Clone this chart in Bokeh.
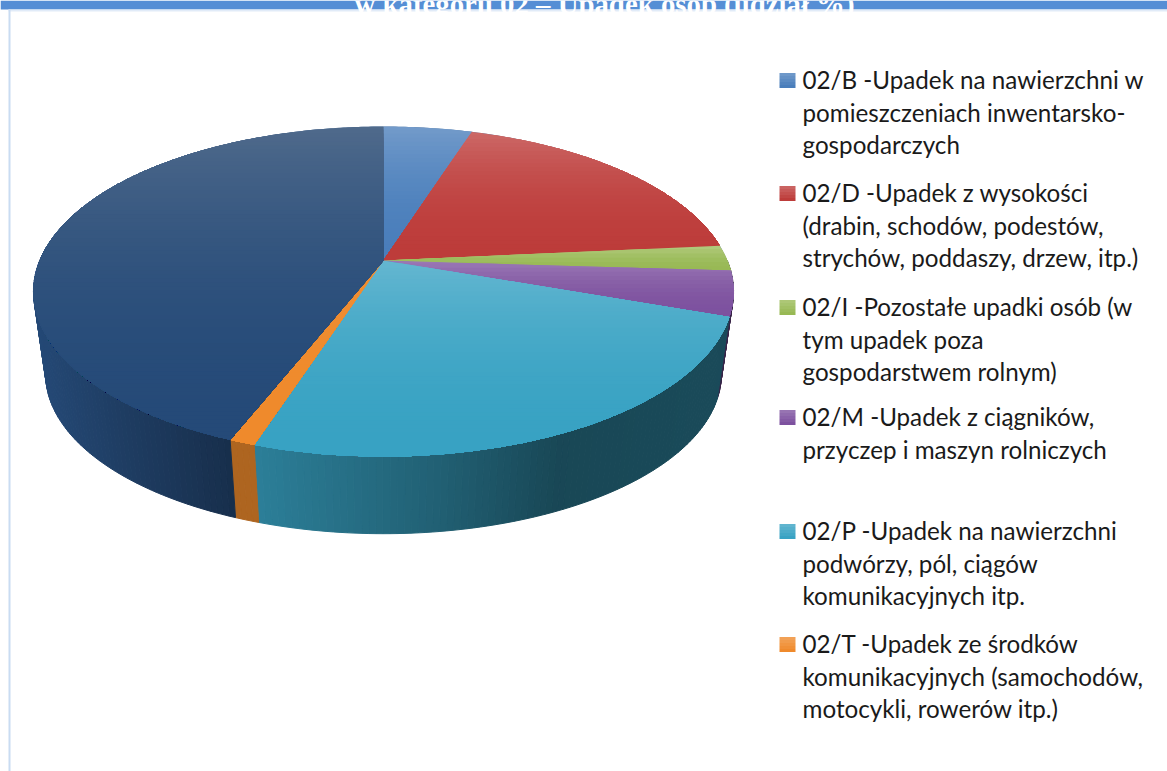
import math
import numpy as np
from bokeh.plotting import figure
from bokeh.models import ColumnDataSource, Range1d
from bokeh.core.properties import value
from bokeh.embed import file_html
from bokeh.resources import INLINE

# ---------- data ----------
slice_names = ["02/B", "02/D", "02/I", "02/M", "02/P", "02/T", "other"]
slice_shares = [4.9, 18.6, 2.5, 4.4, 24.6, 1.0, 44.0]
slice_colors = ["#4a7ebb", "#bd3c3a", "#98b954", "#7d519f", "#38a2c3", "#ef8a2c", "#254a78"]
legend_lines = [
    ["02/B -Upadek na nawierzchni w", "pomieszczeniach inwentarsko-", "gospodarczych"],
    ["02/D -Upadek z wysokości", "(drabin, schodów, podestów,", "strychów, poddaszy, drzew, itp.)"],
    ["02/I -Pozostałe upadki osób (w", "tym upadek poza", "gospodarstwem rolnym)"],
    ["02/M -Upadek z ciągników,", "przyczep i maszyn rolniczych"],
    ["02/P -Upadek na nawierzchni", "podwórzy, pól, ciągów", "komunikacyjnych itp."],
    ["02/T -Upadek ze środków", "komunikacyjnych (samochodów,", "motocykli, rowerów itp.)"],
]
title_text = "w kategorii 02 – Upadek osób (udział %)"

# ---------- layout / projection ----------
W, H = 1167, 771
CX, CY, RX, RY, K = 383.0, 260.0, 343.8, 159.2, 0.188
BOTTOM_SCALE, DEPTH = 0.965, 84.0
LEGEND_Y = [79, 192, 306, 416, 530, 643]
LINE_PITCH = 32.5


def rim(deg):
    a = np.radians(deg)
    d = 1 + K * np.cos(a)
    return CX + RX * np.sin(a) / d, CY - RY * np.cos(a) / d


def floor(x, y):
    return CX + BOTTOM_SCALE * (x - CX), CY + BOTTOM_SCALE * (y - CY) + DEPTH


def rgb(h):
    return tuple(int(h[i:i + 2], 16) for i in (1, 3, 5))


def shade(h, f):
    return "#%02x%02x%02x" % tuple(min(255, int(round(c * f))) for c in rgb(h))


def tint(h, t, target=255):
    return "#%02x%02x%02x" % tuple(int(round(c + (target - c) * t)) for c in rgb(h))


def clip_below(pts, y0):
    out = []
    for i in range(len(pts)):
        a, b = pts[i], pts[(i + 1) % len(pts)]
        ka, kb = a[1] >= y0, b[1] >= y0
        if ka:
            out.append(a)
        if ka != kb:
            out.append((a[0] + (b[0] - a[0]) * (y0 - a[1]) / (b[1] - a[1]), y0))
    return out


def side_factor(name, x):
    if name == "other":
        return float(np.interp(x, [33, 120, 235], [0.98, 0.82, 0.62]))
    if name == "02/T":
        return 0.73
    return float(np.interp(x, [255, 440, 560, 733], [0.78, 0.59, 0.44, 0.46]))


edges = np.concatenate([[0], np.cumsum(slice_shares)]) * 3.6

p = figure(width=W, height=H, x_range=Range1d(0, W), y_range=Range1d(H, 0),
           toolbar_location=None, output_backend="svg", min_border=0, margin=0)
p.xaxis.visible = False
p.yaxis.visible = False
p.grid.visible = False
p.outline_line_color = None
p.background_fill_color = "white"
p.border_fill_color = "white"

# frame of the slide
p.quad(left=[0], right=[W], top=[0], bottom=[9], fill_color="#558ed5", line_color=None)
p.quad(left=[8], right=[W], top=[9], bottom=[11], fill_color="#e1ebf8", line_color=None)
p.quad(left=[8], right=[10], top=[9], bottom=[H], fill_color="#c9dcf2", line_color=None)
p.text(x=[604], y=[3], text=[title_text], text_color="white", text_align="center",
       text_baseline="alphabetic", text_font=value("Liberation Serif"),
       text_font_style="bold", text_font_size="28.8px")

# side wall, one strip per degree
xs, ys, cs = [], [], []
for i, name in enumerate(slice_names):
    a0, a1 = edges[i], edges[i + 1]
    lo, hi = max(a0, 90.0), min(a1, 270.0)
    if hi <= lo:
        continue
    steps = max(1, int(math.ceil(hi - lo)))
    grid = np.linspace(lo, hi, steps + 1)
    for s, e in zip(grid[:-1], grid[1:]):
        x0, y0 = rim(s)
        x1, y1 = rim(e)
        bx0, by0 = floor(x0, y0)
        bx1, by1 = floor(x1, y1)
        xs.append([x0, x1, bx1, bx0])
        ys.append([y0, y1, by1, by0])
        cs.append(shade(slice_colors[i], side_factor(name, (x0 + x1) / 2)))
p.patches(xs="xs", ys="ys", fill_color="cs", line_color="cs", line_width=1,
          source=ColumnDataSource(dict(xs=xs, ys=ys, cs=cs)))

# top surface: an underlay, then bands painted from the back to the front
full = rim(np.linspace(0, 360, 361))
p.patch(full[0], full[1], fill_color="#5f7fa5", line_color=None)
xs, ys, cs = [], [], []
for i, name in enumerate(slice_names):
    angles = np.linspace(edges[i], edges[i + 1], int(edges[i + 1] - edges[i]) * 2 + 3)
    rx, ry = rim(angles)
    poly = [(CX, CY)] + list(zip(rx.tolist(), ry.tolist()))
    ymin = min(q[1] for q in poly)
    ymax = max(q[1] for q in poly)
    nb = max(4, int((ymax - ymin) / 4))
    amount, target = 0.22, 255
    if name == "other":
        amount, target = 0.27, 192
    if name == "02/T":
        amount = 0.04
    for b0 in np.linspace(ymin - 1, ymax, nb, endpoint=False):
        part = clip_below(poly, float(b0))
        if len(part) < 3:
            continue
        s = max(0.0, (b0 - ymin) / (ymax - ymin))
        xs.append([q[0] for q in part])
        ys.append([q[1] for q in part])
        cs.append(tint(slice_colors[i], amount * (1 - s) ** 2.2, target))
p.patches(xs="xs", ys="ys", fill_color="cs", line_color=None,
          source=ColumnDataSource(dict(xs=xs, ys=ys, cs=cs)))

# legend
sx0, sy0, sx1, sy1, scol = [], [], [], [], []
tx, ty, tt = [], [], []
for i, lines in enumerate(legend_lines):
    base = LEGEND_Y[i]
    for j in range(5):
        sx0.append(779)
        sx1.append(795)
        sy0.append(base + 1 - 7.5 + j * 3)
        sy1.append(base + 1 - 7.5 + (j + 1) * 3)
        scol.append(tint(slice_colors[i], 0.2 * (1 - j / 4)))
    for j, line in enumerate(lines):
        tx.append(802)
        ty.append(base + j * LINE_PITCH)
        tt.append(line)
p.quad(left=sx0, right=sx1, top=sy0, bottom=sy1, fill_color=scol, line_color=None)
p.text(x="x", y="y", text="t", source=ColumnDataSource(dict(x=tx, y=ty, t=tt)),
       text_color="#1a1a1a", text_font=value("Lato"), text_font_size="24.2px",
       text_baseline="middle", text_align="left")

open("out.html", "w").write(file_html(p, INLINE))
